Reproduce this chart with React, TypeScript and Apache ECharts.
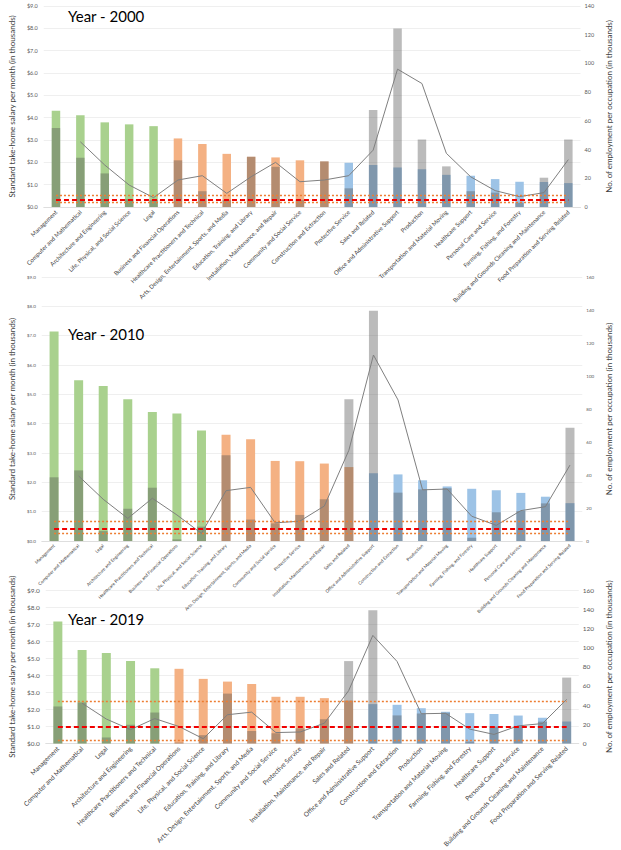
import React, { useEffect, useRef } from "react";
import * as echarts from "echarts";

// ---------- DATA ----------
const categories2000 = [
  "Management",
  "Computer and Mathematical",
  "Architecture and Engineering",
  "Life, Physical, and Social Science",
  "Legal",
  "Business and Financial Operations",
  "Healthcare Practitioners and Technical",
  "Arts, Design, Entertainment, Sports, and Media",
  "Education, Training, and Library",
  "Installation, Maintenance, and Repair",
  "Community and Social Service",
  "Construction and Extraction",
  "Protective Service",
  "Sales and Related",
  "Office and Administrative Support",
  "Production",
  "Transportation and Material Moving",
  "Healthcare Support",
  "Personal Care and Service",
  "Farming, Fishing, and Forestry",
  "Building and Grounds Cleaning and Maintenance",
  "Food Preparation and Serving Related",
];
const salary2000 = [4.31, 4.11, 3.79, 3.7, 3.62, 3.07, 2.82, 2.38, 2.25, 2.22, 2.09, 2.04, 1.98, 1.88, 1.77, 1.69, 1.44, 1.4, 1.25, 1.13, 1.12, 1.07];
const employment2000 = [55, 34.3, 23.4, 5.5, 5, 32.5, 11, 5, 35, 28, 5, 31.8, 13, 67.5, 124.3, 47, 28.3, 11, 10, 3, 20.4, 47];
const trend2000 = [null, 45.4, 29.2, 15.3, 6.5, 18.8, 21.8, 9.5, 21.1, 31.1, 17.6, 18.8, 21.8, 39.6, 96, 86, 37.4, 21, 11.4, 7.2, 10, 33];
const tier2000 = ["high", "high", "high", "high", "high", "mid", "mid", "mid", "mid", "mid", "mid", "mid", "low", "low", "low", "low", "low", "low", "low", "low", "low", "low"];

const categoriesLater = [
  "Management",
  "Computer and Mathematical",
  "Legal",
  "Architecture and Engineering",
  "Healthcare Practitioners and Technical",
  "Business and Financial Operations",
  "Life, Physical, and Social Science",
  "Education, Training, and Library",
  "Arts, Design, Entertainment, Sports, and Media",
  "Community and Social Service",
  "Protective Service",
  "Installation, Maintenance, and Repair",
  "Sales and Related",
  "Office and Administrative Support",
  "Construction and Extraction",
  "Production",
  "Transportation and Material Moving",
  "Farming, Fishing, and Forestry",
  "Healthcare Support",
  "Personal Care and Service",
  "Building and Grounds Cleaning and Maintenance",
  "Food Preparation and Serving Related",
];
const salary2010 = [7.14, 5.48, 5.28, 4.83, 4.4, 4.35, 3.77, 3.62, 3.47, 2.73, 2.72, 2.64, 2.52, 2.31, 2.27, 2.07, 1.86, 1.78, 1.73, 1.64, 1.51, 1.29];
const employment2010 = [38.6, 42.8, 6, 19.6, 32.3, 1, 8.7, 52, 13, 10.7, 15.8, 25.3, 85.9, 139.6, 29.3, 31.3, 32, 2, 17.4, 18.2, 22.8, 68.7];
const trend2010 = [null, 39.4, 25.3, 13.7, 25.9, 15.8, 4.6, 30.5, 32.5, 11, 12, 21.2, 55, 112.7, 85.5, 31, 31.5, 15, 9.5, 18.4, 20.8, 46];
const tier2010 = ["high", "high", "high", "high", "high", "high", "high", "mid", "mid", "mid", "mid", "mid", "mid", "low", "low", "low", "low", "low", "low", "low", "low", "low"];

const salary2019 = [7.16, 5.48, 5.3, 4.84, 4.41, 4.38, 3.79, 3.63, 3.49, 2.74, 2.74, 2.66, 2.52, 2.31, 2.27, 2.07, 1.86, 1.78, 1.73, 1.64, 1.51, 1.29];
const employment2019 = [38.6, 42.8, 6.3, 19.6, 32.3, 1, 8.7, 52, 13, 10.7, 15.8, 25.3, 85.9, 138.8, 29.3, 31.3, 32, 2, 17.7, 18.2, 22.8, 68.7];
const trend2019 = [null, 42, 25.5, 14.5, 26, 17.7, 5, 30, 32.7, 11.4, 12, 21.2, 55, 112.7, 85.5, 31, 31.5, 15, 9.5, 18.4, 20.8, 46];
const tier2019 = ["high", "high", "high", "high", "high", "mid", "mid", "mid", "mid", "mid", "mid", "mid", "mid", "low", "low", "low", "low", "low", "low", "low", "low", "low"];

const yearTitles = ["Year - 2000", "Year - 2010", "Year - 2019"];
const redLevels = [0.34, 0.43, 1.0];
const orangeUpperLevels = [0.54, 0.67, 2.45];
const orangeLowerLevels = [0.21, 0.28, 0.2];
const salaryTicksMax = [9, 9, 9];
const employmentTicksMax = [140, 160, 160];

// ---------- STYLE ----------
const FONT = "Lato, 'Noto Sans', sans-serif";
const tierColor: Record<string, string> = { high: "#a9d18e", mid: "#f4b183", low: "#9dc3e6" };
const greyFill = "rgba(85,85,85,0.4)";

const layouts = [
  { left: 34, right: 32, top: 6, height: 201, barWidth: 8.5, catFont: 6, tickFont: 5.5, nameGapL: 22, nameGapR: 19, titleTop: 8 },
  { left: 25, right: 24, top: 277, height: 264, barWidth: 9, catFont: 4.5, tickFont: 4.5, nameGapL: 15, nameGapR: 11, titleTop: 326 },
  { left: 25, right: 23, top: 590, height: 169, barWidth: 9, catFont: 6.5, tickFont: 6.5, nameGapL: 15, nameGapR: 11, titleTop: 611 },
];

function buildPanel(i: number, cats: string[], salary: number[], emp: number[], trend: (number | null)[], tiers: string[]) {
  const L = layouts[i];
  const grid = { left: L.left, right: L.right, top: L.top, height: L.height };
  const xAxis = {
    gridIndex: i,
    type: "category",
    data: cats,
    axisTick: { show: false },
    axisLine: { lineStyle: { color: "#d9d9d9", width: 0.8 } },
    axisLabel: { rotate: 45, interval: 0, fontSize: L.catFont, color: "#404040", margin: 4, fontFamily: FONT },
  };
  const yLeft = {
    gridIndex: i,
    type: "value",
    position: "left",
    min: 0,
    max: salaryTicksMax[i],
    interval: 1,
    name: "Standard take-home salary per month (in thousands)",
    nameLocation: "middle",
    nameRotate: 90,
    nameGap: L.nameGapL,
    nameTextStyle: { fontSize: 8, color: "#404040", fontFamily: FONT },
    axisLine: { show: false },
    axisTick: { show: false },
    axisLabel: { fontSize: L.tickFont, color: "#595959", margin: 6, fontFamily: FONT, formatter: (v: number) => "$" + v.toFixed(1) },
    splitLine: { lineStyle: { color: "#ebebeb", width: 0.8 } },
  };
  const yRight = {
    gridIndex: i,
    type: "value",
    position: "right",
    min: 0,
    max: employmentTicksMax[i],
    interval: 20,
    name: "No. of employment per occupation (in thousands)",
    nameLocation: "middle",
    nameRotate: 90,
    nameGap: L.nameGapR,
    nameTextStyle: { fontSize: 8, color: "#404040", fontFamily: FONT },
    axisLine: { show: false },
    axisTick: { show: false },
    axisLabel: { fontSize: L.tickFont, color: "#595959", margin: 4, fontFamily: FONT },
    splitLine: { show: false },
  };
  const last = cats[cats.length - 1];
  const orangeStyle = { color: "#ed7d31", width: 1.4, type: [2, 2] };
  const series = [
    {
      type: "bar",
      xAxisIndex: i,
      yAxisIndex: 2 * i,
      barWidth: L.barWidth,
      barGap: "-100%",
      z: 2,
      data: salary.map((v, k) => ({ value: v, itemStyle: { color: tierColor[tiers[k]] } })),
    },
    {
      type: "bar",
      xAxisIndex: i,
      yAxisIndex: 2 * i + 1,
      barWidth: L.barWidth,
      barGap: "-100%",
      z: 3,
      itemStyle: { color: greyFill },
      data: emp,
    },
    {
      type: "line",
      xAxisIndex: i,
      yAxisIndex: 2 * i + 1,
      symbol: "none",
      z: 4,
      lineStyle: { color: "#7f7f7f", width: 1 },
      data: trend.map((v) => (v == null ? "-" : v)),
    },
    {
      type: "line",
      xAxisIndex: i,
      yAxisIndex: 2 * i,
      z: 5,
      data: [],
      markLine: {
        symbol: ["none", "none"],
        silent: true,
        label: { show: false },
        data: [
          [{ coord: [cats[0], orangeUpperLevels[i]], lineStyle: orangeStyle }, { coord: [last, orangeUpperLevels[i]] }],
          [{ coord: [cats[0], orangeLowerLevels[i]], lineStyle: orangeStyle }, { coord: [last, orangeLowerLevels[i]] }],
          [
            { coord: [cats[0], redLevels[i]], lineStyle: { color: "#f00000", width: 2, type: [5, 3] } },
            { coord: [last, redLevels[i]] },
          ],
        ],
      },
    },
  ];
  const title = {
    text: yearTitles[i],
    left: 68,
    top: L.titleTop,
    padding: 0,
    textStyle: { fontSize: 15, fontWeight: 400, color: "#000", fontFamily: FONT },
  };
  return { grid, xAxis, yAxes: [yLeft, yRight], series, title };
}

export default function App() {
  const ref = useRef<HTMLDivElement>(null);
  useEffect(() => {
    document.body.style.margin = "0";
    if (!ref.current) return;
    const chart = echarts.init(ref.current, undefined, { renderer: "svg" });
    const panels = [
      buildPanel(0, categories2000, salary2000, employment2000, trend2000, tier2000),
      buildPanel(1, categoriesLater, salary2010, employment2010, trend2010, tier2010),
      buildPanel(2, categoriesLater, salary2019, employment2019, trend2019, tier2019),
    ];
    chart.setOption({
      animation: false,
      backgroundColor: "#ffffff",
      textStyle: { fontFamily: FONT },
      title: panels.map((p) => p.title),
      grid: panels.map((p) => p.grid),
      xAxis: panels.map((p) => p.xAxis),
      yAxis: panels.flatMap((p) => p.yAxes),
      series: panels.flatMap((p) => p.series),
    });
    return () => chart.dispose();
  }, []);
  return <div ref={ref} style={{ width: 621, height: 850 }} />;
}
